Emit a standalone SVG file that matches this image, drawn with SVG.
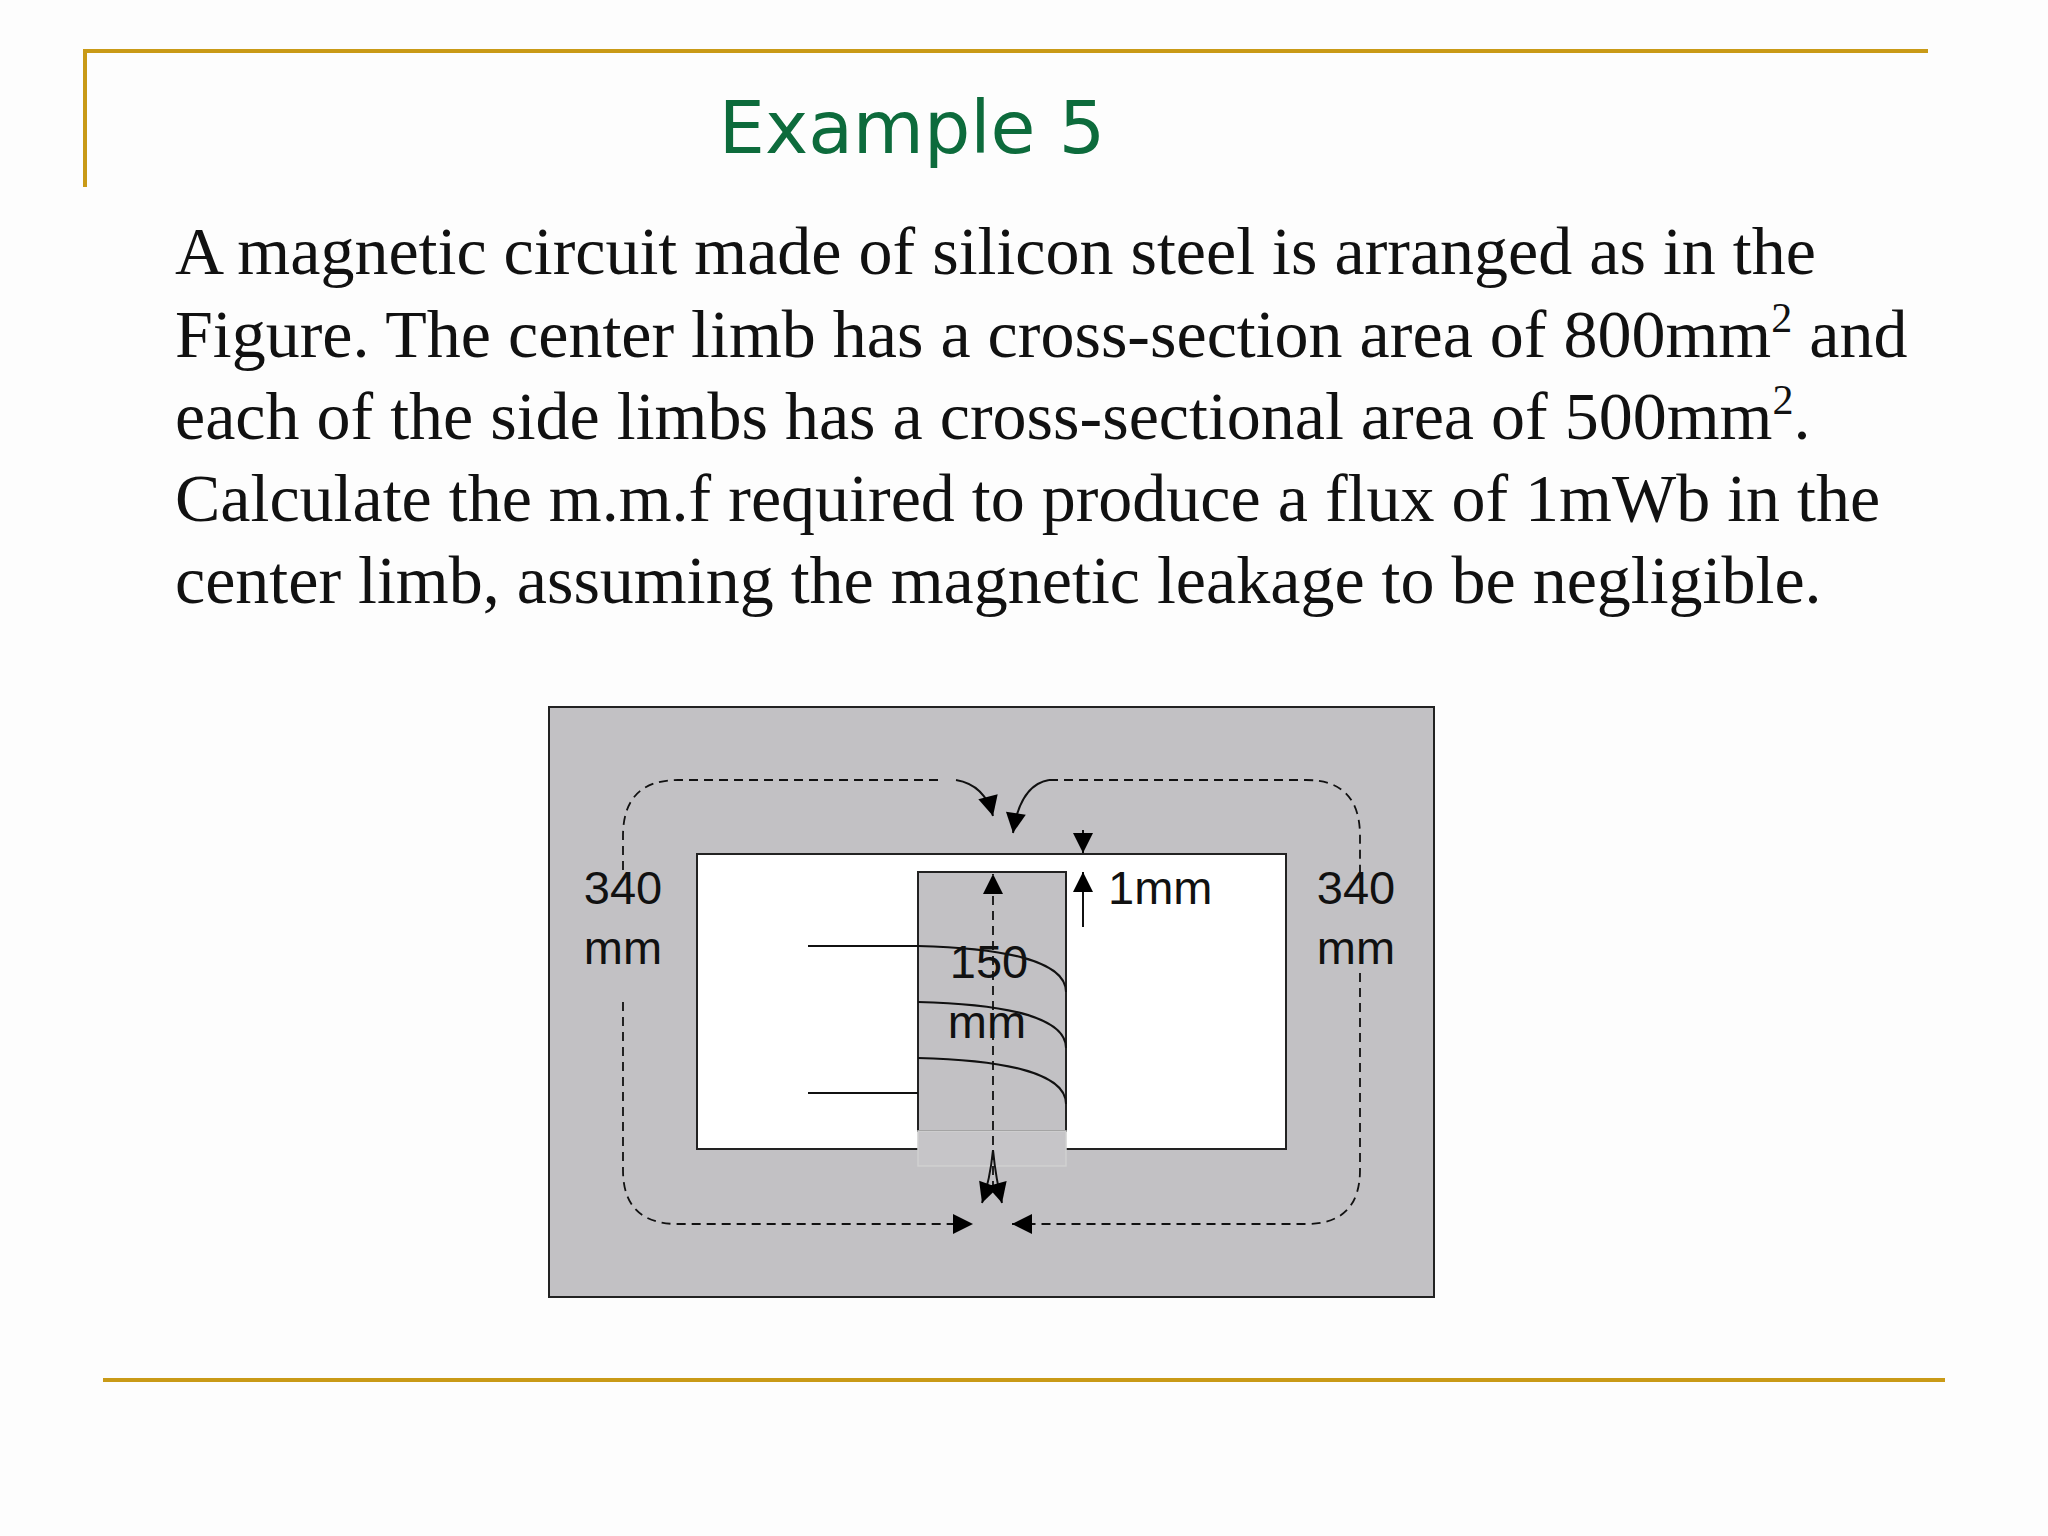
<svg xmlns="http://www.w3.org/2000/svg" width="2048" height="1536" viewBox="0 0 2048 1536">
<defs>
<marker id="ah" viewBox="0 0 10 10" refX="10" refY="5" markerWidth="22" markerHeight="20" markerUnits="userSpaceOnUse" orient="auto"><path d="M0,0 L10,5 L0,10 z" fill="#000"/></marker>
<style>
.body{font-family:"Liberation Serif",serif;font-size:68px;fill:#111}
.lbl{font-family:"Liberation Sans",Arial,sans-serif;font-size:47px;fill:#111;text-anchor:middle}
.dash{fill:none;stroke:#111;stroke-width:1.8;stroke-dasharray:9,6}
.ln{fill:none;stroke:#111;stroke-width:2}
</style>
</defs>
<rect width="2048" height="1536" fill="#fdfdfd"/>
<g id="frame" stroke="#c99a17" stroke-width="4" fill="none">
<path d="M85,187 V51 H1928"/>
<path d="M103,1380 H1945"/>
</g>
<g id="title"><text x="912" y="153" text-anchor="middle" font-family="'DejaVu Sans',sans-serif" font-size="73" fill="#0d6b3c">Example 5</text></g>
<g id="problem">
<text class="body" x="175" y="274">A magnetic circuit made of silicon steel is arranged as in the</text>
<text class="body" x="175" y="357">Figure. The center limb has a cross-section area of 800mm<tspan font-size="42" dy="-25">2</tspan><tspan dy="25"> and</tspan></text>
<text class="body" x="175" y="439">each of the side limbs has a cross-sectional area of 500mm<tspan font-size="42" dy="-25">2</tspan><tspan dy="25">.</tspan></text>
<text class="body" x="175" y="521">Calculate the m.m.f required to produce a flux of 1mWb in the</text>
<text class="body" x="175" y="603">center limb, assuming the magnetic leakage to be negligible.</text>
</g>
<g id="core">
<rect x="549" y="707" width="885" height="590" fill="#c2c1c4" stroke="#222" stroke-width="2"/>
<rect x="697" y="854" width="589" height="295" fill="#fff" stroke="#222" stroke-width="2"/>
<rect x="918" y="872" width="148" height="259" fill="#c2c1c4" stroke="#222" stroke-width="2"/>
<rect x="918" y="1131" width="148" height="35" fill="#c6c5c8" stroke="#d0d0d0" stroke-width="1.5"/>
</g>
<g id="coil">
<path class="ln" d="M808,946 H918 C1000,948 1066,960 1066,992"/>
<path class="ln" d="M918,1002 C1000,1004 1066,1016 1066,1048"/>
<path class="ln" d="M918,1058 C1000,1060 1066,1072 1066,1104"/>
<path class="ln" d="M808,1093 H918"/>
</g>
<g id="connectors">
<path class="dash" d="M938,780 H678 Q623,780 623,836 V872"/>
<path class="dash" d="M623,1002 V1170 Q623,1224 678,1224 H973" marker-end="url(#ah)"/>
<path class="ln" d="M956,780 Q985,785 993,816" marker-end="url(#ah)"/>
<path class="dash" d="M1049,780 H1306 Q1360,780 1360,836 V872"/>
<path class="dash" d="M1360,973 V1170 Q1360,1224 1306,1224 H1012" marker-end="url(#ah)"/>
<path class="ln" d="M1049,780 Q1020,785 1013,833" marker-end="url(#ah)"/>
<path class="dash" d="M993,1190 V874" marker-end="url(#ah)"/>
<path class="ln" d="M993,1150 Q990,1180 982,1203" marker-end="url(#ah)"/>
<path class="ln" d="M993,1150 Q996,1180 1002,1203" marker-end="url(#ah)"/>
<path class="ln" d="M1083,830 V853" marker-end="url(#ah)"/>
<path class="ln" d="M1083,927 V872" marker-end="url(#ah)"/>
</g>
<g id="labels">
<text class="lbl" x="623" y="904">340</text>
<text class="lbl" x="623" y="964">mm</text>
<text class="lbl" x="1356" y="904">340</text>
<text class="lbl" x="1356" y="964">mm</text>
<text class="lbl" x="989" y="978">150</text>
<text class="lbl" x="987" y="1038">mm</text>
<text class="lbl" x="1108" y="904" style="text-anchor:start">1mm</text>
</g>
</svg>
